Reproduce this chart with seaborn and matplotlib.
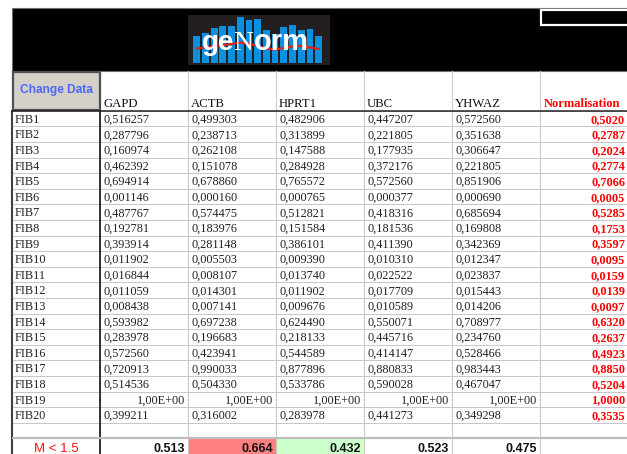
import numpy as np
import pandas as pd
import seaborn as sns
import matplotlib
matplotlib.use("Agg")
import matplotlib.pyplot as plt
from matplotlib.colors import ListedColormap
import matplotlib.patches as mpatches

# ---------------- data ----------------
genes = ["GAPD", "ACTB", "HPRT1", "UBC", "YHWAZ"]
samples = ["FIB1", "FIB2", "FIB3", "FIB4", "FIB5", "FIB6", "FIB7", "FIB8", "FIB9", "FIB10",
           "FIB11", "FIB12", "FIB13", "FIB14", "FIB15", "FIB16", "FIB17", "FIB18", "FIB19", "FIB20"]
gapd = [0.516257, 0.287796, 0.160974, 0.462392, 0.694914, 0.001146, 0.487767, 0.192781, 0.393914, 0.011902,
        0.016844, 0.011059, 0.008438, 0.593982, 0.283978, 0.572560, 0.720913, 0.514536, 1.0, 0.399211]
actb = [0.499303, 0.238713, 0.262108, 0.151078, 0.678860, 0.000160, 0.574475, 0.183976, 0.281148, 0.005503,
        0.008107, 0.014301, 0.007141, 0.697238, 0.196683, 0.423941, 0.990033, 0.504330, 1.0, 0.316002]
hprt1 = [0.482906, 0.313899, 0.147588, 0.284928, 0.765572, 0.000765, 0.512821, 0.151584, 0.386101, 0.009390,
         0.013740, 0.011902, 0.009676, 0.624490, 0.218133, 0.544589, 0.877896, 0.533786, 1.0, 0.283978]
ubc = [0.447207, 0.221805, 0.177935, 0.372176, 0.572560, 0.000377, 0.418316, 0.181536, 0.411390, 0.010310,
       0.022522, 0.017709, 0.010589, 0.550071, 0.445716, 0.414147, 0.880833, 0.590028, 1.0, 0.441273]
yhwaz = [0.572560, 0.351638, 0.306647, 0.221805, 0.851906, 0.000690, 0.685694, 0.169808, 0.342369, 0.012347,
         0.023837, 0.015443, 0.014206, 0.708977, 0.234760, 0.528466, 0.983443, 0.467047, 1.0, 0.349298]
normalisation = [0.5020, 0.2787, 0.2024, 0.2774, 0.7066, 0.0005, 0.5285, 0.1753, 0.3597, 0.0095,
                 0.0159, 0.0139, 0.0097, 0.6320, 0.2637, 0.4923, 0.8850, 0.5204, 1.0000, 0.3535]
m_label = "M < 1.5"
m_values = [0.513, 0.664, 0.432, 0.523, 0.475]
norm_header = "Normalisation"
button_label = "Change Data"
logo_text = ("ge", "N", "orm")
logo_bar_heights = [27, 30, 35, 37, 37, 46, 43, 44, 33, 29, 36, 38, 33, 34, 27]
logo_wave = [48.5, 47.5, 46, 45, 44, 42.5, 43.5, 46, 48.5, 49.5, 48, 46.5, 46, 47.5, 49]

# ---------------- figure ----------------
W, H = 627, 454
fig = plt.figure(figsize=(W / 100, H / 100), dpi=100)
fig.patch.set_facecolor("white")

bg = fig.add_axes([0, 0, 1, 1])
bg.set_xlim(0, W)
bg.set_ylim(H, 0)
bg.axis("off")

# black title band
bg.add_patch(mpatches.Rectangle((12, 8), W - 12, 63, facecolor="black", edgecolor="#707070", lw=0.8))
# top-right white framed box
bg.add_patch(mpatches.Rectangle((541, 10), 95, 15, facecolor="black", edgecolor="white", lw=1.6))

# logo
bg.add_patch(mpatches.Rectangle((188, 15), 142, 50, facecolor="#231f20", edgecolor="none"))
bar_x = 196.7 + 8.71 * np.arange(len(logo_bar_heights))
bg.bar(bar_x, -np.array(logo_bar_heights), bottom=62.5, width=6.8, color="#0a90e0", zorder=2)
bg.plot(bar_x, logo_wave, color="#e3211b", lw=1.6, zorder=3)
bg.text(202, 50, logo_text[0], color="white", fontsize=20, fontweight="bold",
        family="Liberation Sans", va="baseline", ha="left", zorder=4)
bg.text(233.5, 50, logo_text[1], color="white", fontsize=20,
        family="Liberation Serif", va="baseline", ha="left", zorder=4)
bg.text(253.5, 50, logo_text[2], color="white", fontsize=21, fontweight="bold",
        family="Liberation Sans", va="baseline", ha="left", zorder=4)

# header row
col_w = 88
for k in range(2, 8):
    x = 12 + k * col_w
    bg.plot([x, x], [71, 110.7], color="#cccccc", lw=0.8)
bg.add_patch(mpatches.Rectangle((12.5, 71.5), 87.5, 38.5, facecolor="#d4d0c8",
                                edgecolor="#505050", lw=1.6, zorder=3))
bg.text(56, 90.5, button_label, color="#4a68f5", fontsize=8.6, fontweight="bold",
        family="Liberation Sans", ha="center", va="center", zorder=4)
for i, g in enumerate(genes):
    bg.text(12 + (i + 1) * col_w + 3, 107.3, g, fontsize=9.2, family="Liberation Serif",
            color="#111111", ha="left", va="baseline")
bg.text(12 + 6 * col_w + 4, 107.3, norm_header, fontsize=9, fontweight="bold",
        family="Liberation Serif", color="#ff0000", ha="left", va="baseline")

# ---------------- table grid (seaborn heatmap) ----------------
row_h = 15.6
n_rows = len(samples) + 2
top = 110.7
ax = fig.add_axes([12 / W, (H - top - n_rows * row_h) / H, 7 * col_w / W, n_rows * row_h / H])

codes = np.zeros((n_rows, 7))
codes[-1, 1 + int(np.argmax(m_values))] = 1
codes[-1, 1 + int(np.argmin(m_values))] = 2
grid = pd.DataFrame(codes)
sns.heatmap(grid, ax=ax, cmap=ListedColormap(["white", "#ff8080", "#ccffcc"]), vmin=0, vmax=2,
            cbar=False, linewidths=0.7, linecolor="#c8c8c8", xticklabels=False, yticklabels=False)
ax.tick_params(length=0)

ax.axvline(1, color="black", lw=1.1, clip_on=False)
ax.axvline(0, color="#404040", lw=1.5, clip_on=False)
ax.axhline(0, color="#222222", lw=1.1, clip_on=False)
ax.axhline(n_rows - 1, color="#bdbdbd", lw=1.6)

pad = 3 / col_w
base = 0.5 + 4.3 / row_h   # baseline offset inside a row
series = [gapd, actb, hprt1, ubc, yhwaz]
tf = dict(fontsize=8.8, family="Liberation Serif", color="#222222", va="baseline")
for r, s in enumerate(samples):
    y = r + base
    ax.text(pad, y, s, ha="left", **tf)
    for c, vals in enumerate(series):
        v = vals[r]
        if v == 1.0:
            ax.text(c + 2 - pad, y, "1,00E+00", ha="right", **tf)
        else:
            ax.text(c + 1 + pad, y, f"{v:.6f}".replace(".", ","), ha="left", **tf)
    ax.text(7 - pad, y, f"{normalisation[r]:.4f}".replace(".", ","), ha="right",
            fontsize=8.8, fontweight="bold", family="Liberation Serif", color="#ff0000",
            va="baseline")

ym = n_rows - 1 + 0.5 + 5.5 / row_h
ax.text(0.5, ym, m_label, ha="center", va="baseline", fontsize=9.5, family="Liberation Sans",
        color="#ff1010")
for c, v in enumerate(m_values):
    ax.text(c + 2 - pad, ym, f"{v:.3f}", ha="right", va="baseline", fontsize=9,
            fontweight="bold", family="Liberation Sans", color="#111111")

fig.savefig("out.png", dpi=100, facecolor="white")
